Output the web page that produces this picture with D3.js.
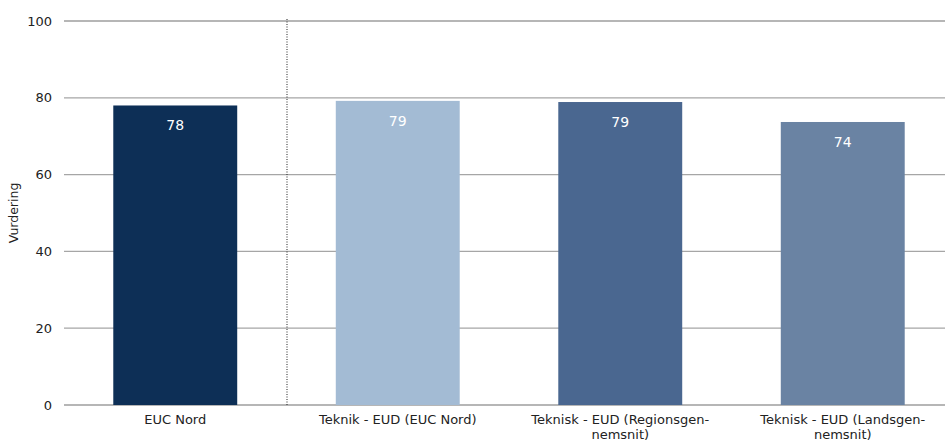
<!DOCTYPE html>
<html><head><meta charset="utf-8">
<script src="https://cdn.jsdelivr.net/npm/d3@7"></script>
<style>body{margin:0;background:#fff}svg{display:block}text{font-family:"DejaVu Sans",Verdana,sans-serif}</style>
</head><body>
<svg id="c" width="945" height="448"></svg>
<script>
const categories = ["EUC Nord", "Teknik - EUD (EUC Nord)", "Teknisk - EUD (Regionsgen-|nemsnit)", "Teknisk - EUD (Landsgen-|nemsnit)"];
const values = [78, 79.2, 78.9, 73.7];
const labels = ["78", "79", "79", "74"];
const colors = ["#0d2f56", "#a3bbd4", "#4a6790", "#6a83a3"];
const yTicks = [0, 20, 40, 60, 80, 100];

const svg = d3.select("#c");
const x = d3.scaleBand().domain(categories).range([64, 954]).paddingInner(0.443).paddingOuter(0.2215);
const y = d3.scaleLinear().domain([0, 100]).range([405, 21]);

// grid
svg.append("g").selectAll("line").data(yTicks).join("line")
  .attr("x1", 64).attr("x2", 945)
  .attr("y1", d => y(d)).attr("y2", d => y(d))
  .attr("stroke", (d) => (d === 0 || d === 100) ? "#6e6e6e" : "#a6a6a6")
  .attr("stroke-width", 1.2);

// y tick labels
svg.append("g").selectAll("text").data(yTicks).join("text")
  .attr("x", 52).attr("y", d => y(d)).attr("dy", "0.35em")
  .attr("text-anchor", "end").attr("font-size", 13).attr("fill", "#222")
  .text(d => d);

// y title
svg.append("text").attr("transform", "translate(18,213) rotate(-90)")
  .attr("text-anchor", "middle").attr("font-size", 12.5).attr("fill", "#222").text("Vurdering");

// dotted separator
svg.append("line").attr("x1", 287).attr("x2", 287).attr("y1", 19).attr("y2", 405)
  .attr("stroke", "#222").attr("stroke-dasharray", "1,1.5").attr("stroke-width", 1);

// bars
svg.append("g").selectAll("rect").data(categories).join("rect")
  .attr("x", d => x(d)).attr("width", x.bandwidth())
  .attr("y", (d, i) => y(values[i])).attr("height", (d, i) => y(0) - y(values[i]))
  .attr("fill", (d, i) => colors[i]);

// value labels
svg.append("g").selectAll("text").data(categories).join("text")
  .attr("x", d => x(d) + x.bandwidth() / 2)
  .attr("y", (d, i) => y(values[i]) + 25)
  .attr("text-anchor", "middle").attr("font-size", 14).attr("fill", "#fff")
  .text((d, i) => labels[i]);

// x labels
const xl = svg.append("g").selectAll("text").data(categories).join("text")
  .attr("x", d => x(d) + x.bandwidth() / 2)
  .attr("y", 424)
  .attr("text-anchor", "middle").attr("font-size", 13).attr("fill", "#222");
xl.each(function(d) {
  const parts = d.split("|");
  const t = d3.select(this);
  parts.forEach((p, i) => {
    t.append("tspan").attr("x", x(d) + x.bandwidth() / 2).attr("dy", i === 0 ? 0 : 15).text(p);
  });
});
</script>
</body></html>
